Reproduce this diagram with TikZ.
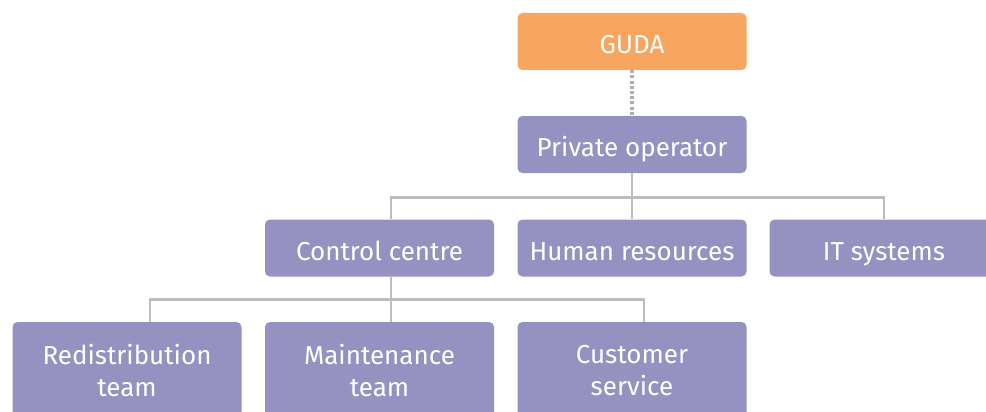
\documentclass[tikz,border=0pt]{standalone}
\usepackage{fontspec}
\setmainfont{Fira Sans}
\definecolor{boxpurple}{HTML}{9591C0}
\definecolor{boxorange}{HTML}{F8A560}
\definecolor{linkgray}{HTML}{BDBDBD}
\definecolor{dotgray}{HTML}{AEAEAE}
\begin{document}
\begin{tikzpicture}[x=1pt,y=-1pt,
  basebox/.style={fill=boxpurple, rounded corners=5pt, text=white, align=center,
    minimum width=229pt, inner sep=0pt, font=\fontsize{26}{32}\selectfont},
  unit/.style={basebox, minimum height=57pt, text height=26pt, text depth=1pt},
  topunit/.style={unit, fill=boxorange},
  tallunit/.style={basebox, minimum height=98pt},
  link/.style={draw=linkgray, line width=2.6pt},
  dotlink/.style={draw=dotgray, line width=3.2pt, dash pattern=on 3pt off 2.2pt}]
\useasboundingbox (0,0) rectangle (986,412);
% top level
\node[topunit] (guda) at (632,41.5) {GUDA};
\node[unit] (po) at (632,144.5) {Private operator};
% second level
\node[unit] (cc) at (379.5,248) {Control centre};
\node[unit] (hr) at (632,248) {Human resources};
\node[unit] (it) at (884,248) {IT systems};
% third level
\node[tallunit] (rt) at (127,371) {Redistribution\\team};
\node[tallunit] (mt) at (379.5,371) {Maintenance\\team};
\node[tallunit] (cs) at (632,371) {Customer\\service};
% junction points of the tree lines
\coordinate (j1) at (632,197.5);
\coordinate (j2) at (391,299.5);
% links
\draw[dotlink] (guda.south) -- (po.north);
\draw[link] (po.south) -- (j1);
\draw[link] ([xshift=11.5pt]cc.north) |- (j1) -| (it.north);
\draw[link] (j1) -- (hr.north);
\draw[link] ([xshift=11.5pt]cc.south) -- (j2);
\draw[link] ([xshift=23pt]rt.north) |- (j2) -| ([xshift=12pt]cs.north);
\draw[link] (j2) -- ([xshift=11.5pt]mt.north);
\end{tikzpicture}
\end{document}
